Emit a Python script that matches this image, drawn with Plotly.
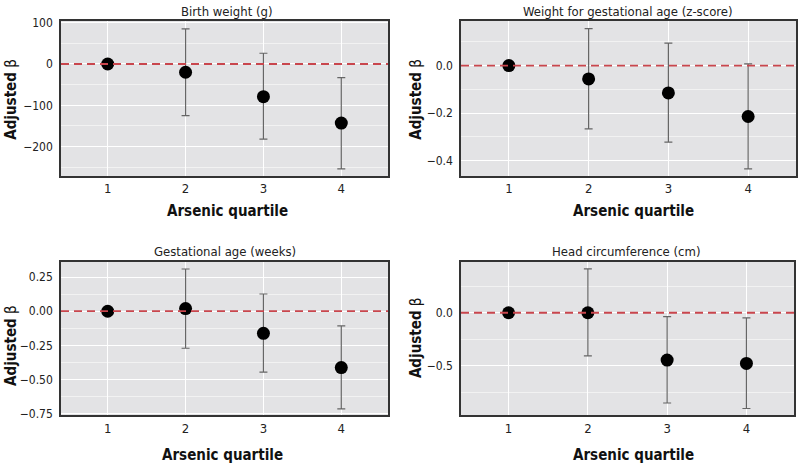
import plotly.graph_objects as go

quartiles = [1, 2, 3, 4]
tick_labels = ["1", "2", "3", "4"]

titles = ["Birth weight (g)", "Weight for gestational age (z-score)",
          "Gestational age (weeks)", "Head circumference (cm)"]

bw_est = [0, -20, -79, -143]
bw_low = [0, -125, -182, -254]
bw_high = [0, 85, 26, -33]

wga_est = [0, -0.056, -0.115, -0.214]
wga_low = [0, -0.266, -0.322, -0.434]
wga_high = [0, 0.155, 0.094, 0.007]

ga_est = [0, 0.019, -0.162, -0.412]
ga_low = [0, -0.271, -0.446, -0.714]
ga_high = [0, 0.309, 0.126, -0.107]

hc_est = [0, 0.0, -0.445, -0.476]
hc_low = [0, -0.405, -0.848, -0.90]
hc_high = [0, 0.412, -0.037, -0.049]

panels = [
    dict(est=bw_est, low=bw_low, high=bw_high, yr=[-271, 105], dt=100, mdt=50, fmt=None,
         dom_x=[61, 388], dom_y=[16, 175]),
    dict(est=wga_est, low=wga_low, high=wga_high, yr=[-0.464, 0.189], dt=0.2, mdt=0.1, fmt=".1f",
         dom_x=[461, 796], dom_y=[16, 175]),
    dict(est=ga_est, low=ga_low, high=ga_high, yr=[-0.761, 0.361], dt=0.25, mdt=0.125, fmt=".2f",
         dom_x=[61, 388], dom_y=[263, 420]),
    dict(est=hc_est, low=hc_low, high=hc_high, yr=[-0.963, 0.478], dt=0.5, mdt=0.25, fmt=".1f",
         dom_x=[461, 794], dom_y=[263, 420]),
]

W, H = 800, 473
FONT = "Liberation Sans Narrow, DejaVu Sans Condensed, Arial Narrow, sans-serif"
fig = go.Figure()
layout = dict(width=W, height=H, margin=dict(l=0, r=0, t=0, b=0),
              paper_bgcolor="white", plot_bgcolor="#e3e3e5", showlegend=False,
              font=dict(family=FONT, color="#222"))
shapes = []
annotations = []

title_pos = [(227, 15), (628, 15), (225, 261), (626, 261)]
xt_pos = [(227, 211), (633, 211), (222, 461), (633, 461)]
yt_pos = [(11, 97), (416, 97), (11, 349), (416, 341)]

for i, p in enumerate(panels):
    n = "" if i == 0 else str(i + 1)
    xa, ya = "x" + n, "y" + n
    est = p["est"]
    fig.add_trace(go.Scatter(
        x=quartiles, y=est, mode="markers", xaxis=xa, yaxis=ya,
        marker=dict(size=13, color="black"),
        error_y=dict(type="data", symmetric=False,
                     array=[h - e for h, e in zip(p["high"], est)],
                     arrayminus=[e - l for e, l in zip(est, p["low"])],
                     color="#666666", thickness=1.2, width=4),
        cliponaxis=False,
    ))
    x0, x1 = p["dom_x"]
    y0, y1 = p["dom_y"]
    ax = dict(domain=[x0 / W, x1 / W], range=[0.4, 4.6], tickvals=quartiles,
              ticktext=tick_labels, showgrid=True, gridcolor="white", gridwidth=1,
              zeroline=False, showline=True, linecolor="#333", linewidth=1.5, mirror=True,
              ticks="", tickfont=dict(size=13, color="#222"), anchor=ya)
    ay = dict(domain=[1 - y1 / H, 1 - y0 / H], range=p["yr"], dtick=p["dt"], tick0=0,
              showgrid=True, gridcolor="white", gridwidth=1, zeroline=False,
              showline=True, linecolor="#333", linewidth=1.5, mirror=True,
              ticks="", tickfont=dict(size=12, color="#222"), anchor=xa,
              minor=dict(dtick=p["mdt"], tick0=0, showgrid=True, gridcolor="#f2f2f2", gridwidth=1),
              ticklabelstandoff=4)
    if p["fmt"]:
        ay["tickformat"] = p["fmt"]
    layout["xaxis" + n] = ax
    layout["yaxis" + n] = ay
    shapes.append(dict(type="line", xref=xa + " domain", yref=ya, x0=0, x1=1, y0=0, y1=0,
                       line=dict(color="#c9464d", width=1.8, dash="8px,5px"), layer="above"))
    tx, ty = title_pos[i]
    annotations.append(dict(text=titles[i], x=tx / W, y=1 - ty / H, xref="paper", yref="paper",
                            showarrow=False, xanchor="center", yanchor="bottom", borderpad=0,
                            font=dict(size=13, color="#222")))
    tx, ty = xt_pos[i]
    annotations.append(dict(text="<b>Arsenic quartile</b>", x=tx / W, y=1 - ty / H,
                            xref="paper", yref="paper", showarrow=False,
                            xanchor="center", yanchor="middle",
                            font=dict(size=15, color="#111")))
    tx, ty = yt_pos[i]
    annotations.append(dict(text="<b>Adjusted</b> β", x=tx / W, y=1 - ty / H,
                            xref="paper", yref="paper", showarrow=False, textangle=-90,
                            xanchor="center", yanchor="middle",
                            font=dict(size=15, color="#111")))

layout["shapes"] = shapes
layout["annotations"] = annotations
fig.update_layout(**layout)
fig.write_html("out.html", config={"displayModeBar": False},
               post_script="document.body.style.margin='0';")
